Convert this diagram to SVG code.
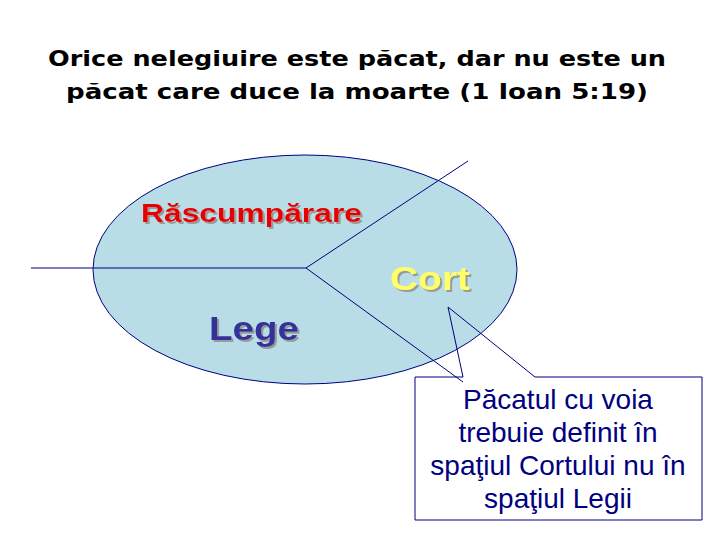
<svg xmlns="http://www.w3.org/2000/svg" width="720" height="540" viewBox="0 0 720 540">
<defs>
<style>
.title{font-family:"DejaVu Sans",Verdana,sans-serif;font-weight:bold;font-size:21px;fill:#000;text-anchor:middle}
.big{font-family:"Liberation Sans",Arial,sans-serif;font-weight:bold;text-anchor:start;filter:url(#sh)}
.ln{stroke:#000080;stroke-width:1;fill:none}
.call{font-family:"Liberation Sans",Arial,sans-serif;font-size:28px;fill:#000080;text-anchor:middle}
</style>
<filter id="sh" x="-10%" y="-20%" width="130%" height="150%">
<feOffset in="SourceAlpha" dx="2" dy="2" result="o"/>
<feFlood flood-color="#9a9a9a"/>
<feComposite in2="o" operator="in" result="s"/>
<feMerge><feMergeNode in="s"/><feMergeNode in="SourceGraphic"/></feMerge>
</filter>
</defs>
<rect width="720" height="540" fill="#ffffff"/>
<g id="title">
<text class="title" x="357" y="66" textLength="618" lengthAdjust="spacingAndGlyphs">Orice nelegiuire este păcat, dar nu este un</text>
<text class="title" x="357" y="99" textLength="582" lengthAdjust="spacingAndGlyphs">păcat care duce la moarte (1 Ioan 5:19)</text>
</g>
<g id="ellipse">
<ellipse cx="305" cy="269.5" rx="212" ry="114.5" fill="#b8dde6" stroke="#000080" stroke-width="1"/>
</g>
<g id="connectors">
<line class="ln" x1="31" y1="268" x2="306" y2="268"/>
<line class="ln" x1="306" y1="268" x2="468" y2="161"/>
<line class="ln" x1="306" y1="268" x2="463" y2="382"/>
</g>
<g id="rascumparare">
<text class="big" x="141" y="222" font-size="26" fill="#e80000" textLength="221" lengthAdjust="spacingAndGlyphs">Răscumpărare</text>
</g>
<g id="cort">
<text class="big" x="390" y="290" font-size="34" fill="#ffff66" textLength="80" lengthAdjust="spacingAndGlyphs">Cort</text>
</g>
<g id="lege">
<text class="big" x="209" y="340" font-size="34" fill="#333399" textLength="90" lengthAdjust="spacingAndGlyphs">Lege</text>
</g>
<g id="callout">
<path d="M463,377 L448,307 L535,377 L702,377 L702,520 L415,520 L415,377 Z" fill="none" stroke="#000080" stroke-width="1"/>
<text class="call" x="558" y="409">Păcatul cu voia</text>
<text class="call" x="558" y="442">trebuie definit în</text>
<text class="call" x="558" y="475">spaţiul Cortului nu în</text>
<text class="call" x="558" y="508">spaţiul Legii</text>
</g>
</svg>
